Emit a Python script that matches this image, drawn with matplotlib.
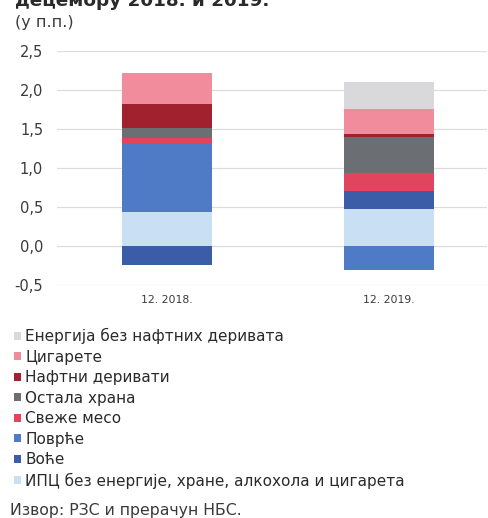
import matplotlib
matplotlib.use("Agg")
import matplotlib.pyplot as plt
import numpy as np

plt.rcParams['font.family'] = ['DejaVu Sans']

categories = ["12. 2018.", "12. 2019."]
series_names = [
    "ИПЦ без енергије, хране, алкохола и цигарета",
    "Воће",
    "Поврће",
    "Свеже месо",
    "Остала храна",
    "Нафтни деривати",
    "Цигарете",
    "Енергија без нафтних деривата",
]
ipc_core = [0.44, 0.48]
fruit = [-0.24, 0.23]
vegetables = [0.88, -0.31]
fresh_meat = [0.07, 0.22]
other_food = [0.12, 0.47]
oil = [0.31, 0.03]
cigarettes = [0.40, 0.33]
energy = [0.0, 0.34]
series_values = [ipc_core, fruit, vegetables, fresh_meat, other_food, oil, cigarettes, energy]
colors = ["#c9e0f4", "#3b5ca6", "#4f7bc6", "#e2445d", "#6b6e73", "#a1212f", "#f08c9b", "#d9d9dc"]
yticks = [-0.5, 0.0, 0.5, 1.0, 1.5, 2.0, 2.5]
ytick_labels = ["-0,5", "0,0", "0,5", "1,0", "1,5", "2,0", "2,5"]

fig = plt.figure(figsize=(4.89, 5.18), dpi=100)
ax = fig.add_axes([57/489, 1-285/518, 430/489, 234/518])

x = np.arange(len(categories))
pos_base = np.zeros(len(categories))
neg_base = np.zeros(len(categories))
handles = []
for name, vals, c in zip(series_names, series_values, colors):
    vals = np.array(vals, dtype=float)
    bottoms = np.where(vals >= 0, pos_base, neg_base)
    h = ax.bar(x, vals, 0.405, bottom=bottoms, color=c, label=name, zorder=3, linewidth=0)
    handles.append(h)
    pos_base += np.where(vals >= 0, vals, 0)
    neg_base += np.where(vals < 0, vals, 0)

ax.set_xlim(-0.495, 1.44)
ax.set_ylim(-0.5, 2.5)
ax.set_yticks(yticks)
ax.set_yticklabels(ytick_labels)
ax.set_xticks(x)
ax.set_xticklabels(categories)
ax.grid(axis='y', color='#dcdcdc', linewidth=0.9, zorder=0)
for s in ax.spines.values():
    s.set_visible(False)
ax.tick_params(axis='y', length=0, pad=10, labelsize=10.5, labelcolor='#3a3a3a')
ax.tick_params(axis='x', length=0, pad=7, labelsize=7.8, labelcolor='#3a3a3a')

fig.text(15/489, 1-6/518, "децембру 2018. и 2019.", fontsize=13.2, fontweight='bold',
         color='#2a2a2a', va='baseline', ha='left')
fig.text(15/489, 1-22/518, "(у п.п.)", fontsize=11.5, color='#3a3a3a', va='center', ha='left')

leg = fig.legend(handles[::-1], series_names[::-1], loc='upper left',
                 bbox_to_anchor=(14/489, 1-328/518), frameon=False, fontsize=11,
                 handlelength=0.45, handleheight=0.45, handletextpad=0.3,
                 labelspacing=0.36, borderpad=0, borderaxespad=0)
for t in leg.get_texts():
    t.set_color('#2a2a2a')

fig.text(10/489, 1-511/518, "Извор: РЗС и прерачун НБС.", fontsize=11.3, color='#3a3a3a',
         va='center', ha='left')

fig.savefig("out.png", dpi=100)
